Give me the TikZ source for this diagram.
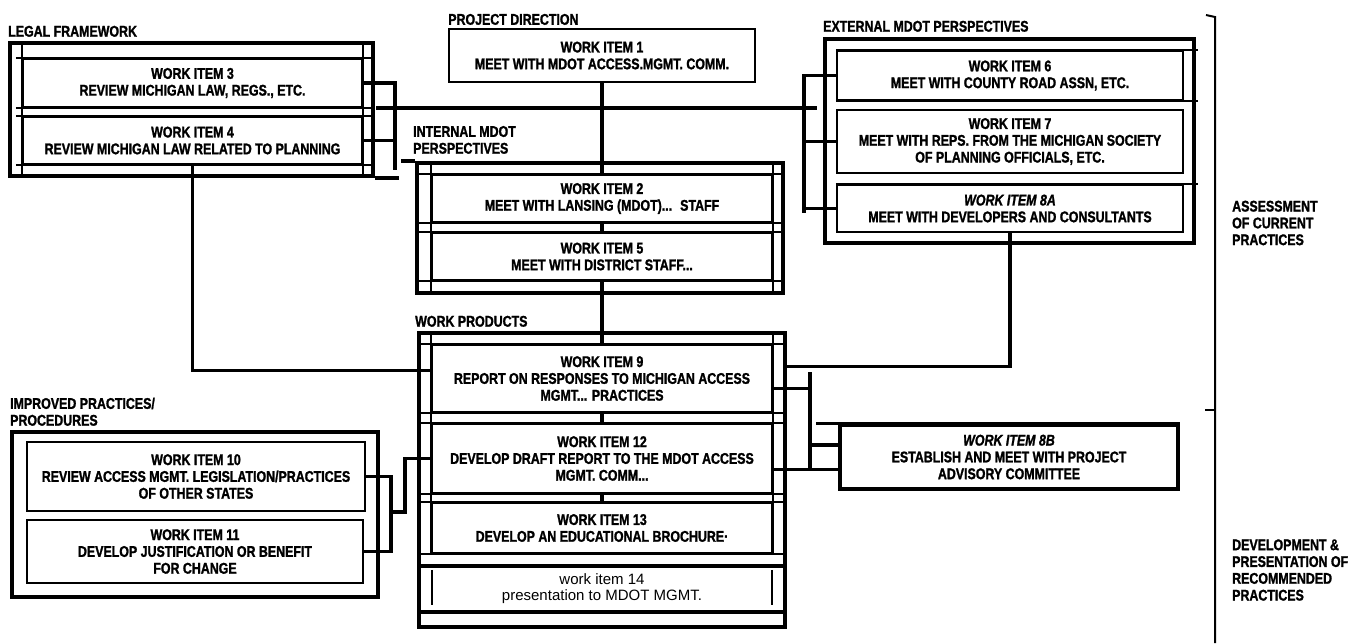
\documentclass[tikz,border=0pt]{standalone}
\usepackage{fontspec}
\setmainfont{Liberation Sans}
\newfontfamily\condfont[FakeStretch=0.8, BoldFeatures={FakeBold=1.4}, BoldItalicFeatures={FakeBold=1.4}]{Liberation Sans}
\newcommand{\itemfont}{\condfont\bfseries\fontsize{15.5}{16.8}\selectfont}
\newcommand{\plainfont}{\fontsize{15}{16}\selectfont}

\tikzset{
  frame/.style={draw, line width=4pt, inner sep=0pt},
  item/.style={draw, line width=2.2pt, inner sep=0pt, align=center, font=\itemfont},
  lbl/.style={inner sep=0pt, align=left, font=\itemfont, anchor=south west},
  link/.style={line width=3.4pt},
  trunk/.style={line width=4.4pt},
  rule/.style={line width=1.6pt}
}

\begin{document}
\begin{tikzpicture}[x=1pt, y=-1pt]
  \useasboundingbox (0,0) rectangle (1368,643);
  % legal framework
  \node[frame, minimum width=363pt, minimum height=133pt] (lf) at (191.5,109.5) {};
  \node[item, minimum width=339pt, minimum height=48pt] (wi3) at (192.5,83)
    {WORK ITEM 3\\REVIEW MICHIGAN LAW, REGS., ETC.};
  \node[item, minimum width=339pt, minimum height=47pt] (wi4) at (192.5,140.5)
    {WORK ITEM 4\\REVIEW MICHIGAN LAW RELATED TO PLANNING};
  \foreach \a in {west,east}
  \draw[rule] (wi3.north \a |- lf.north) -- (wi4.south \a |- lf.south);
  \foreach \n in {wi3,wi4}
  \draw[rule] ([xshift=-6pt]\n.north west) -- ([xshift=8pt]\n.north east)
    ([xshift=-6pt]\n.south west) -- ([xshift=11pt]\n.south east);
  \draw[frame] (lf.south east) -- ++(24,0);
  \node[lbl] (lflbl) at ([yshift=4pt]lf.north west) {LEGAL FRAMEWORK};

  % project direction
  \node[item, line width=1.8pt, minimum width=306pt, minimum height=53pt] (wi1) at (602,55.5)
    {WORK ITEM 1\\MEET WITH MDOT ACCESS.MGMT. COMM.};
  \node[lbl] (pdlbl) at ([yshift=3pt]wi1.north west) {PROJECT DIRECTION};

  % internal mdot perspectives
  \node[frame, minimum width=366pt, minimum height=130pt] (im) at (600,228) {};
  \node[item, minimum width=340pt, minimum height=47pt] (wi2) at (602,198.5)
    {WORK ITEM 2\\MEET WITH LANSING (MDOT)...~ STAFF};
  \node[item, minimum width=340pt, minimum height=47pt] (wi5) at (602,256.5)
    {WORK ITEM 5\\MEET WITH DISTRICT STAFF...};
  \foreach \a in {west,east}
  \draw[rule] (wi2.north \a |- im.north) -- (wi5.south \a |- im.south);
  \foreach \n in {wi2,wi5}
  \draw[rule] (\n.north west -| im.west) -- (\n.north east -| im.east)
    (\n.south west -| im.west) -- (\n.south east -| im.east);
  \draw[frame] (im.north west) -- ++(-14,0);
  \node[lbl] (imlbl) at ([shift={(-2pt,7pt)}]im.north west) {INTERNAL MDOT\\PERSPECTIVES};

  % work products
  \node[frame, minimum width=366pt, minimum height=294pt] (wp) at (602,480) {};
  \node[item, minimum width=340pt, minimum height=67pt] (wi9) at (602,378.5)
    {WORK ITEM 9\\REPORT ON RESPONSES TO MICHIGAN ACCESS\\MGMT... PRACTICES};
  \node[item, minimum width=340pt, minimum height=69pt] (wi12) at (602,458.5)
    {WORK ITEM 12\\DEVELOP DRAFT REPORT TO THE MDOT ACCESS\\MGMT. COMM...};
  \node[item, minimum width=340pt, minimum height=50pt] (wi13) at (602,528)
    {WORK ITEM 13\\DEVELOP AN EDUCATIONAL BROCHURE·};
  \node[inner sep=0pt, align=center, font=\plainfont, minimum width=340pt, minimum height=46pt]
    (wi14) at (602,589) {work item 14\\presentation to MDOT MGMT.};
  \foreach \n in {wi9,wi12,wi13}
  \draw[rule] (\n.north west -| wp.west) -- (\n.north east -| wp.east)
    (\n.south west -| wp.west) -- (\n.south east -| wp.east);
  \foreach \a in {west,east}
  \draw[rule] (wi9.north \a |- wp.north) -- (wi13.south \a);
  \draw[frame] (wi14.north -| wp.west) -- (wi14.north -| wp.east)
    (wi14.south -| wp.west) -- (wi14.south -| wp.east);
  \foreach \a in {west,east}
  \draw[rule] ([yshift=-4pt]wi14.north \a) -- ([yshift=7pt]wi14.south \a);
  \node[lbl] (wplbl) at ([shift={(-2pt,4pt)}]wp.north west) {WORK PRODUCTS};

  % external mdot perspectives
  \node[frame, minimum width=369pt, minimum height=204pt] (ef) at (1009.5,141) {};
  \node[item, minimum width=346pt, minimum height=49pt] (wi6) at (1010,75.5)
    {WORK ITEM 6\\MEET WITH COUNTY ROAD ASSN, ETC.};
  \node[item, minimum width=346pt, minimum height=63pt] (wi7) at (1010,141.5)
    {WORK ITEM 7\\MEET WITH REPS. FROM THE MICHIGAN SOCIETY\\OF PLANNING OFFICIALS, ETC.};
  \node[item, minimum width=346pt, minimum height=47pt] (wi8a) at (1010,208.5)
    {\textit{WORK ITEM 8A}\\MEET WITH DEVELOPERS AND CONSULTANTS};
  \foreach \c in {wi6.north,wi6.south,wi8a.north}
  \draw[rule] (\c -| wi6.west) -- ([xshift=14pt]\c -| wi6.east);
  \node[lbl] (eflbl) at ([yshift=5pt]ef.north west) {EXTERNAL MDOT PERSPECTIVES};

  % advisory committee
  \node[item, line width=3.2pt, minimum width=338pt, minimum height=64pt] (wi8b) at (1009,457)
    {\textit{WORK ITEM 8B}\\ESTABLISH AND MEET WITH PROJECT\\ADVISORY COMMITTEE};
  \draw[link] ([xshift=-22pt]wi8b.north west) -- (wi8b.north east);

  % improved practices
  \node[frame, minimum width=366pt, minimum height=165pt] (ip) at (195,514.5) {};
  \node[item, minimum width=338pt, minimum height=69pt] (wi10) at (196,476.5)
    {WORK ITEM 10\\REVIEW ACCESS MGMT. LEGISLATION/PRACTICES\\OF OTHER STATES};
  \node[item, minimum width=336pt, minimum height=63pt] (wi11) at (195,551.5)
    {WORK ITEM 11\\DEVELOP JUSTIFICATION OR BENEFIT\\FOR CHANGE};
  \node[lbl] (iplbl) at ([yshift=4pt]ip.north west) {IMPROVED PRACTICES/\\PROCEDURES};

  % connectors
  \coordinate (lfbar) at (395,170);
  \coordinate (trunkw) at (376,108);
  \coordinate (trunke) at (817,108);
  \coordinate (efbar) at (804,213);
  \coordinate (pabar) at (810,372);
  \coordinate (pbbar) at (810,468);
  \coordinate (ipout) at (390,512);
  \draw[link] (wi3.east) -| (lfbar);
  \draw[link] (wi4.east) -- (wi4.east -| lfbar);
  \draw[trunk] (trunkw) -- (trunke);
  \draw[link] (wi6.west) -| (efbar);
  \draw[link] (wi7.west) -- (wi7.west -| efbar);
  \draw[link] (wi8a.west) -- (wi8a.west -| efbar);
  \draw[link] (wi1.south) -- (wi2.north);
  \draw[link] (wi2.south) -- (wi5.north);
  \draw[link] (wi5.south) -- (wi9.north);
  \draw[link] (wi9.south) -- (wi12.north);
  \draw[link] (wi12.south) -- (wi13.north);
  \draw[link] (wi4.south) |- ([yshift=8pt]wi9.west);
  \draw[link] (wi8a.south) |- ([yshift=12pt]wi9.east -| wp.east);
  \draw[link] ([yshift=-10pt]wi9.east) -| (pabar) -- (pbbar);
  \draw[link] ([yshift=12pt]wi8b.west) -- ++(-30,0);
  \draw[link] ([yshift=-11pt]wi12.east) -- ([yshift=-11pt]wi12.east -| wi8b.west);
  \draw[link] (wi10.east) -- ++(25,0) |- (wi11.east);
  \draw[link] (ipout) -- ++(15,0) |- (wi12.west);

  % phases
  \draw[line width=2pt] (1206,15) -- (1215,17) -- (1215,643);
  \draw[line width=2pt] (1205,410) -- (1215,410);
  \node[lbl, anchor=west] (aclbl) at (1232,223) {ASSESSMENT\\OF CURRENT\\PRACTICES};
  \node[lbl, anchor=west] (dvlbl) at (1232,570) {DEVELOPMENT \&\\PRESENTATION OF\\RECOMMENDED\\PRACTICES};
\end{tikzpicture}
\end{document}
